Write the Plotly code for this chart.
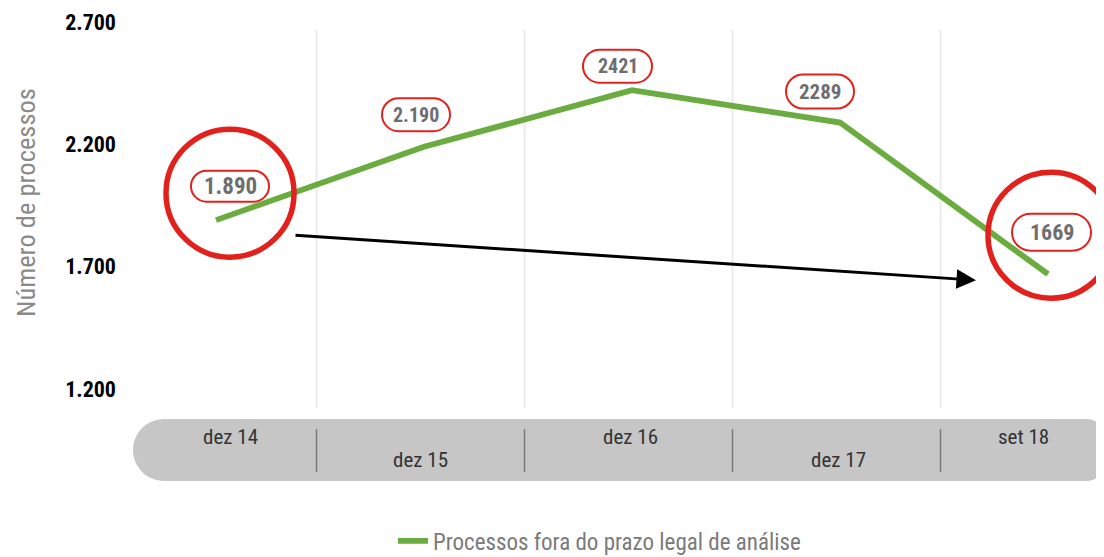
import plotly.graph_objects as go

# ---- data ----
categories = ["dez 14", "dez 15", "dez 16", "dez 17", "set 18"]
values = [1890, 2190, 2421, 2289, 1669]
value_labels = ["1.890", "2.190", "2421", "2289", "1669"]
series_name = "Processos fora do prazo legal de análise"
y_title = "Número de processos"
y_ticks = [1200, 1700, 2200, 2700]

# ---- style ----
FONT = "Roboto Condensed, Liberation Sans Narrow, DejaVu Sans Condensed, sans-serif"
GREEN = "#6aac3f"
RED = "#e3211c"
OFF = 8  # page body margin
W, H = 1104 - OFF, 557 - OFF
ML, MR, MT = 133 - OFF, 0, 20 - OFF
PLOT_BOTTOM_REF = 410
MB = H - (PLOT_BOTTOM_REF - OFF)
PW, PH = W - ML - MR, H - MT - MB
STEP = 208.0
X0PX = 216.0
xr0 = -(X0PX - 133) / STEP
xr1 = xr0 + PW / STEP
YTOP, YBOT = 2708, 1114


def py(pix):  # reference pixel row -> paper y
    return (PLOT_BOTTOM_REF - pix) / PH


def px(pix):  # reference pixel column -> paper x
    return (pix - 133) / PW


fig = go.Figure()
fig.add_trace(go.Scatter(
    x=categories, y=values, mode="lines", name=series_name,
    line=dict(color=GREEN, width=5.8), showlegend=True, hoverinfo="skip"))

shapes = []
annotations = []

# vertical grid lines
for i in range(len(categories) - 1):
    shapes.append(dict(type="line", xref="x", yref="paper", xsizemode="pixel",
                       xanchor=i + 0.5, x0=-3.5, x1=-3.5, y0=py(408), y1=py(30),
                       line=dict(color="#ebebeb", width=2), layer="below"))

# axis band (pill)
k = 0.5523
r = 31
cr = 16
top, bot = -9, -71
cy = (top + bot) / 2
right = 970
pill = (f"M {r},{top} L {right-cr},{top} "
        f"C {right-cr+cr*k},{top} {right},{top-cr+cr*k} {right},{top-cr} "
        f"L {right},{bot+cr} "
        f"C {right},{bot+cr-cr*k} {right-cr+cr*k},{bot} {right-cr},{bot} "
        f"L {r},{bot} "
        f"C {r-r*k},{bot} 0,{cy-r*k} 0,{cy} "
        f"C 0,{cy+r*k} {r-r*k},{top} {r},{top} Z")
shapes.append(dict(type="path", xref="paper", yref="paper", xsizemode="pixel",
                   ysizemode="pixel", xanchor=0, yanchor=0, path=pill,
                   fillcolor="#c6c6c6", line=dict(width=0), layer="below"))
for i in range(len(categories) - 1):
    shapes.append(dict(type="line", xref="x", yref="paper", xsizemode="pixel",
                       xanchor=i + 0.5, x0=-3.5, x1=-3.5, y0=py(429), y1=py(472),
                       line=dict(color="#7a7a7a", width=1.5), layer="above"))

# category labels
cat_shift = [14, -4, -2, -2, -25]
for i, c in enumerate(categories):
    annotations.append(dict(x=c, y=py(437) if i % 2 == 0 else py(460),
                            xref="x", yref="paper", text=c, showarrow=False,
                            xshift=cat_shift[i], xanchor="center", yanchor="middle",
                            font=dict(family=FONT, size=21, color="#333333")))

# value label boxes
box_dx = [14, -8, -14.5, -20, 3.5]
box_up = [34, 32, 24, 31, 42]
box_w = [78, 68, 69, 68, 79]
box_h = [31, 33, 33, 34, 37]
lbl_size = [23, 20, 20, 21, 22]
for i, c in enumerate(categories):
    w2, h2 = box_w[i] / 2, box_h[i] / 2
    cx, cyy = box_dx[i], box_up[i]
    rr = h2
    L, R_, T, B = cx - w2, cx + w2, cyy + h2, cyy - h2
    p = (f"M {L+rr},{T} L {R_-rr},{T} "
         f"C {R_-rr+rr*k},{T} {R_},{cyy+rr*k} {R_},{cyy} "
         f"C {R_},{cyy-rr*k} {R_-rr+rr*k},{B} {R_-rr},{B} "
         f"L {L+rr},{B} "
         f"C {L+rr-rr*k},{B} {L},{cyy-rr*k} {L},{cyy} "
         f"C {L},{cyy+rr*k} {L+rr-rr*k},{T} {L+rr},{T} Z")
    shapes.append(dict(type="path", xref="x", yref="y", xsizemode="pixel",
                       ysizemode="pixel", xanchor=i, yanchor=values[i], path=p,
                       fillcolor="white", line=dict(color=RED, width=2), layer="above"))
    annotations.append(dict(x=c, y=values[i], xref="x", yref="y",
                            text=f"<b>{value_labels[i]}</b>", showarrow=False,
                            xshift=cx, yshift=cyy, xanchor="center", yanchor="middle",
                            font=dict(family=FONT, size=lbl_size[i], color="#6e6e6e")))

# highlight circles
for idx, dx, up, rad in [(0, 14, 27, 64), (4, 3, 39, 63)]:
    shapes.append(dict(type="circle", xref="x", yref="y", xsizemode="pixel",
                       ysizemode="pixel", xanchor=idx, yanchor=values[idx],
                       x0=dx - rad, x1=dx + rad, y0=up - rad, y1=up + rad,
                       line=dict(color=RED, width=5.5), layer="above"))

# arrow from first to last
annotations.append(dict(x=categories[4], y=values[4], xref="x", yref="y", text="",
                        showarrow=True, arrowhead=2, arrowsize=1.3, arrowwidth=3,
                        arrowcolor="black", ax=-682, ay=-45, axref="pixel", ayref="pixel",
                        xshift=-72, yshift=-6, standoff=0))

# y-axis title
annotations.append(dict(x=px(25), y=py(203), xref="paper", yref="paper",
                        text=y_title, showarrow=False, textangle=-90,
                        xanchor="center", yanchor="middle",
                        font=dict(family=FONT, size=26.5, color="#8a8a8a")))

fig.update_layout(
    width=W, height=H, autosize=False,
    margin=dict(l=ML, r=MR, t=MT, b=MB, autoexpand=False),
    paper_bgcolor="white", plot_bgcolor="white",
    separators=",.",
    shapes=shapes, annotations=annotations,
    xaxis=dict(range=[xr0, xr1], showticklabels=False, showgrid=False,
               zeroline=False, showline=False, fixedrange=True),
    yaxis=dict(range=[YBOT, YTOP], tickvals=y_ticks, tickformat=",d",
               showgrid=False, zeroline=False, showline=False, ticks="",
               ticklabelstandoff=16,
               tickfont=dict(family=FONT, size=22, color="black", weight="bold")),
    legend=dict(orientation="h", x=px(393), xanchor="left",
                yref="container", y=(557 - 541) / H, yanchor="middle",
                bgcolor="rgba(0,0,0,0)",
                font=dict(family=FONT, size=23, color="#7a7a7a")),
    showlegend=True,
)

fig.write_html("out.html")
